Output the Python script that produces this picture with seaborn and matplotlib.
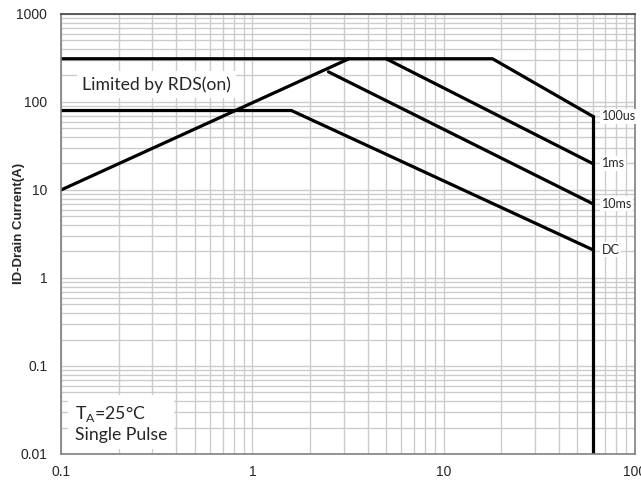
import matplotlib
matplotlib.use('Agg')
import matplotlib.pyplot as plt
import seaborn as sns
from matplotlib.ticker import LogLocator, FixedLocator, FixedFormatter

# Safe operating area curves (Vds in V, Id in A)
rds_v = [0.1, 3.2]
rds_i = [10, 310]
us100_v = [0.1, 18, 60]
us100_i = [310, 310, 69]
ms1_v = [5, 60]
ms1_i = [310, 20]
ms10_v = [2.5, 60]
ms10_i = [220, 7]
dc_v = [0.1, 1.6, 60]
dc_i = [80, 80, 2.1]
vmax_v = [60, 60]
vmax_i = [69, 0.01]

curve_names = ['100us', '1ms', '10ms', 'DC']
curve_ends = [69, 20, 7, 2.1]

x_ticks = [0.1, 1, 10, 100]
x_labels = ['0.1', '1', '10', '100']
y_ticks = [0.01, 0.1, 1, 10, 100, 1000]
y_labels = ['0.01', '0.1', '1', '10', '100', '1000']

sns.set_style('white')
plt.rcParams['font.family'] = ['Liberation Sans', 'DejaVu Sans']

fig = plt.figure(figsize=(6.41, 4.82), dpi=100)
ax = fig.add_axes([0.0952, 0.0581, 0.8954, 0.9129])
ax.set_xscale('log')
ax.set_yscale('log')
ax.set_xlim(0.1, 100)
ax.set_ylim(0.01, 1000)

# grid
ax.xaxis.set_minor_locator(LogLocator(base=10, subs=range(2, 10)))
ax.yaxis.set_minor_locator(LogLocator(base=10, subs=range(2, 10)))
ax.grid(True, which='both', color='#cccccc', linewidth=1.0)
ax.set_axisbelow(True)

for xs, ys in [(rds_v, rds_i), (us100_v, us100_i), (ms1_v, ms1_i),
               (ms10_v, ms10_i), (dc_v, dc_i), (vmax_v, vmax_i)]:
    sns.lineplot(x=xs, y=ys, ax=ax, color='black', linewidth=2.3,
                 sort=False, estimator=None)

label_font = ['Lato', 'DejaVu Sans']
for name, yv in zip(curve_names, curve_ends):
    ax.text(67, yv, name, fontsize=9, family=label_font, va='center', ha='left',
            bbox=dict(facecolor='white', edgecolor='none', pad=1.0), zorder=5)

ax.text(0.1288, 100 * 10 ** 0.2, 'Limited by RDS(on)', fontsize=12.7, family=label_font,
        va='center', ha='left',
        bbox=dict(facecolor='white', edgecolor='none', pad=4), zorder=5)
ax.text(0.1184, 0.0135, 'T$_\\mathregular{A}$=25°C\nSingle Pulse', fontsize=12.7,
        family=label_font, va='bottom', ha='left', linespacing=1.2,
        bbox=dict(facecolor='white', edgecolor='none', pad=5), zorder=5)

ax.xaxis.set_major_locator(FixedLocator(x_ticks))
ax.xaxis.set_major_formatter(FixedFormatter(x_labels))
ax.yaxis.set_major_locator(FixedLocator(y_ticks))
ax.yaxis.set_major_formatter(FixedFormatter(y_labels))
ax.tick_params(axis='both', which='both', length=0, labelsize=10)
ax.tick_params(axis='x', pad=8)
ax.tick_params(axis='y', pad=10)

for s in ax.spines.values():
    s.set_color('#808080')
    s.set_linewidth(1.2)
ax.spines['top'].set_color('#404040')

ax.set_ylabel('ID-Drain Current(A)', fontsize=9.5, fontweight='bold')
ax.yaxis.set_label_coords(-0.062, 0.523)
ax.set_xlabel('')

fig.savefig('out.png', dpi=100)
